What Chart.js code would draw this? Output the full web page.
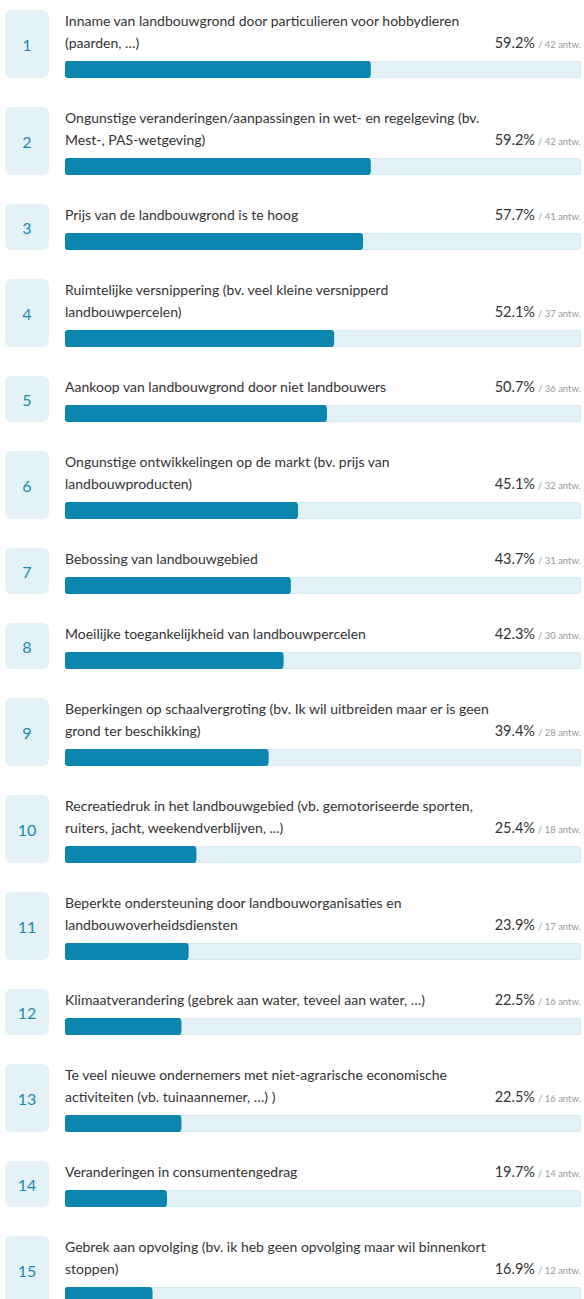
<!DOCTYPE html>
<html lang="nl">
<head>
<meta charset="utf-8">
<title>Knelpunten landbouwgrond</title>
<script src="https://cdn.jsdelivr.net/npm/chart.js@4/dist/chart.umd.min.js"></script>
<style>
  body { margin: 0; background: #fff; font-family: Lato, "Open Sans", sans-serif; color: #333; }
  #list { padding-top: 10px; width: 584px; }
  .item { display: flex; margin-bottom: 29px; }
  .num {
    width: 44px; margin-left: 5px; margin-right: 16px; flex: none;
    background: #e4f2f7; border-radius: 6px;
    display: flex; align-items: center; justify-content: center;
    color: #1a8ab0; font-size: 16px;
  }
  .body { width: 516px; }
  .line { height: 22px; line-height: 21px; font-size: 14px; display: flex; white-space: nowrap; }
  .pct { margin-left: auto; font-size: 14.5px; color: #333; }
  .pct small { font-size: 9.5px; color: #999; margin-left: 3px; }
  .bar { position: relative; height: 17px; margin-top: 7px; }
</style>
</head>
<body>
<div id="list"></div>
<script>
// label lines per item, as they wrap on screen
const labels = [
  ["Inname van landbouwgrond door particulieren voor hobbydieren", "(paarden, \u2026)"],
  ["Ongunstige veranderingen/aanpassingen in wet- en regelgeving (bv.", "Mest-, PAS-wetgeving)"],
  ["Prijs van de landbouwgrond is te hoog"],
  ["Ruimtelijke versnippering (bv. veel kleine versnipperd", "landbouwpercelen)"],
  ["Aankoop van landbouwgrond door niet landbouwers"],
  ["Ongunstige ontwikkelingen op de markt (bv. prijs van", "landbouwproducten)"],
  ["Bebossing van landbouwgebied"],
  ["Moeilijke toegankelijkheid van landbouwpercelen"],
  ["Beperkingen op schaalvergroting (bv. Ik wil uitbreiden maar er is geen", "grond ter beschikking)"],
  ["Recreatiedruk in het landbouwgebied (vb. gemotoriseerde sporten,", "ruiters, jacht, weekendverblijven, ...)"],
  ["Beperkte ondersteuning door landbouworganisaties en", "landbouwoverheidsdiensten"],
  ["Klimaatverandering (gebrek aan water, teveel aan water, \u2026)"],
  ["Te veel nieuwe ondernemers met niet-agrarische economische", "activiteiten (vb. tuinaannemer, \u2026) )"],
  ["Veranderingen in consumentengedrag"],
  ["Gebrek aan opvolging (bv. ik heb geen opvolging maar wil binnenkort", "stoppen)"]
];
const percentages = [59.2, 59.2, 57.7, 52.1, 50.7, 45.1, 43.7, 42.3, 39.4, 25.4, 23.9, 22.5, 22.5, 19.7, 16.9];
const answers = [42, 42, 41, 37, 36, 32, 31, 30, 28, 18, 17, 16, 16, 14, 12];

const BAR_COLOR = "#0a86af";
const TRACK_COLOR = "#e3f1f7";
const TRACK_BORDER = "#d0e6ef";

function buildItem(index) {
  const item = document.createElement("div");
  item.className = "item";

  const num = document.createElement("div");
  num.className = "num";
  num.textContent = index + 1;
  item.appendChild(num);

  const body = document.createElement("div");
  body.className = "body";
  const lines = labels[index];
  lines.forEach((text, i) => {
    const line = document.createElement("div");
    line.className = "line";
    const span = document.createElement("span");
    span.textContent = text;
    line.appendChild(span);
    if (i === lines.length - 1) {
      const pct = document.createElement("span");
      pct.className = "pct";
      pct.innerHTML = `${percentages[index].toFixed(1)}%<small>/ ${answers[index]} antw.</small>`;
      line.appendChild(pct);
    }
    body.appendChild(line);
  });

  const barWrap = document.createElement("div");
  barWrap.className = "bar";
  const canvas = document.createElement("canvas");
  barWrap.appendChild(canvas);
  body.appendChild(barWrap);
  item.appendChild(body);

  document.getElementById("list").appendChild(item);
  return canvas;
}

function renderBar(canvas, index) {
  new Chart(canvas, {
    type: "bar",
    data: {
      labels: [labels[index].join(" ")],
      datasets: [
        {
          data: [percentages[index]],
          backgroundColor: BAR_COLOR,
          borderRadius: 4,
          borderSkipped: false,
          order: 0
        },
        {
          data: [100],
          backgroundColor: TRACK_COLOR,
          borderColor: TRACK_BORDER,
          borderWidth: 1,
          borderRadius: 4,
          borderSkipped: false,
          order: 1
        }
      ]
    },
    options: {
      indexAxis: "y",
      responsive: true,
      maintainAspectRatio: false,
      animation: false,
      events: [],
      layout: { padding: 0 },
      datasets: { bar: { grouped: false, barPercentage: 1, categoryPercentage: 1 } },
      scales: {
        x: { min: 0, max: 100, display: false },
        y: { display: false }
      },
      plugins: { legend: { display: false }, tooltip: { enabled: false } }
    }
  });
}

labels.forEach((_, i) => {
  const canvas = buildItem(i);
  renderBar(canvas, i);
});
</script>
</body>
</html>
